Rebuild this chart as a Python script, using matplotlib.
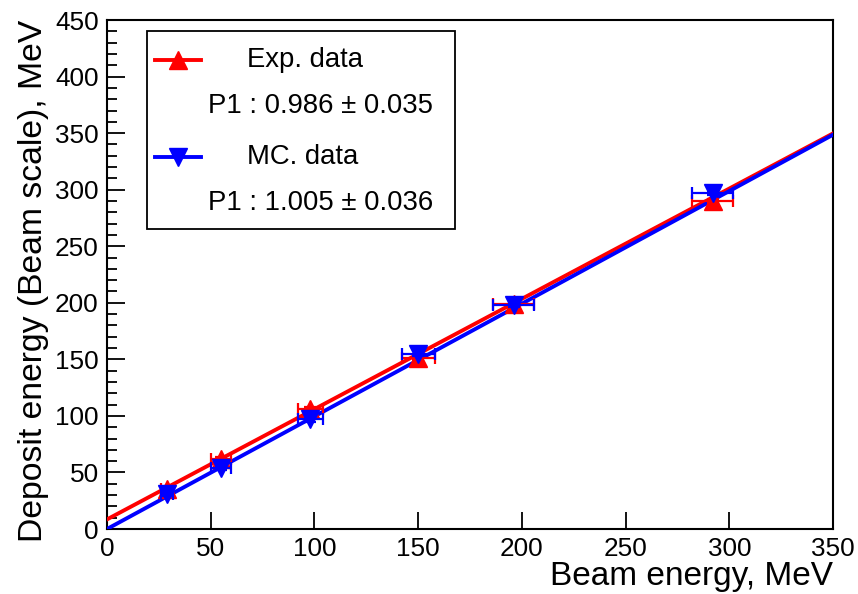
import numpy as np
import matplotlib.pyplot as plt
from matplotlib.ticker import MultipleLocator

plt.rcParams['font.family'] = ['Liberation Sans', 'DejaVu Sans']

# beam energy points and deposits
beam_exp = [29, 55, 98, 150, 196, 292]
dep_exp = [35, 62, 106, 151, 199, 290]
beam_mc = [29, 55, 98, 150, 196, 292]
dep_mc = [31, 54, 97, 155, 198, 297]
xerr = [3, 5, 6, 8, 10, 10]
yerr = [2, 2, 2, 2, 2, 2]

# linear fits (p0, p1)
fit_exp = (8.5, 0.975)
fit_mc = (0.0, 0.996)

fig = plt.figure(figsize=(8.58, 5.94), dpi=100)
ax = fig.add_axes([0.1247, 0.1094, 0.8462, 0.8569])

xs = np.array([0, 350])
ax.plot(xs, fit_exp[0] + fit_exp[1] * xs, color='red', lw=2.8, zorder=3)
ax.plot(xs, fit_mc[0] + fit_mc[1] * xs, color='blue', lw=2.8, zorder=3)

ax.errorbar(beam_exp, dep_exp, xerr=xerr, yerr=yerr, fmt='^', color='red',
            ms=13, elinewidth=1.6, capsize=4, capthick=1.6, zorder=4)
ax.errorbar(beam_mc, dep_mc, xerr=xerr, yerr=yerr, fmt='v', color='blue',
            ms=13, elinewidth=1.6, capsize=4, capthick=1.6, zorder=5)

ax.set_xlim(0, 350)
ax.set_ylim(0, 450)
ax.xaxis.set_major_locator(MultipleLocator(50))
ax.yaxis.set_major_locator(MultipleLocator(50))
ax.yaxis.set_minor_locator(MultipleLocator(10))
ax.tick_params(axis='both', which='major', direction='in', labelsize=18.8,
               top=False, right=False, width=1.3, length=13, pad=6)
ax.tick_params(axis='y', which='minor', direction='in', width=1.3, length=7)
ax.tick_params(axis='x', which='major', length=12)
for s in ax.spines.values():
    s.set_linewidth(1.5)

ax.set_xlabel('Beam energy, MeV', fontsize=24, loc='right', labelpad=0)
ax.set_ylabel('Deposit energy (Beam scale), MeV', fontsize=24.3, loc='top', labelpad=4)

# legend box drawn by hand, ROOT style
box = plt.Rectangle((0.055, 0.59), 0.425, 0.388, transform=ax.transAxes,
                    fill=True, facecolor='white', edgecolor='black', lw=1.3, zorder=6)
ax.add_patch(box)
rows = [('red', '^', 'Exp. data', 'P1 : 0.986 ± 0.035', 0.921),
        ('blue', 'v', 'MC. data', 'P1 : 1.005 ± 0.036', 0.731)]
for col, mk, name, p1, yy in rows:
    ax.plot([0.066, 0.129], [yy, yy], transform=ax.transAxes, color=col, lw=2.8, zorder=7)
    ax.plot([0.0975], [yy], marker=mk, color=col, ms=13, transform=ax.transAxes, zorder=7)
    ax.text(0.193, yy, name, transform=ax.transAxes, fontsize=19.8, va='center', zorder=7)
    ax.text(0.139, yy - 0.09, p1, transform=ax.transAxes,
            fontsize=19.8, va='center', zorder=7)

fig.savefig('out.png', dpi=100)
